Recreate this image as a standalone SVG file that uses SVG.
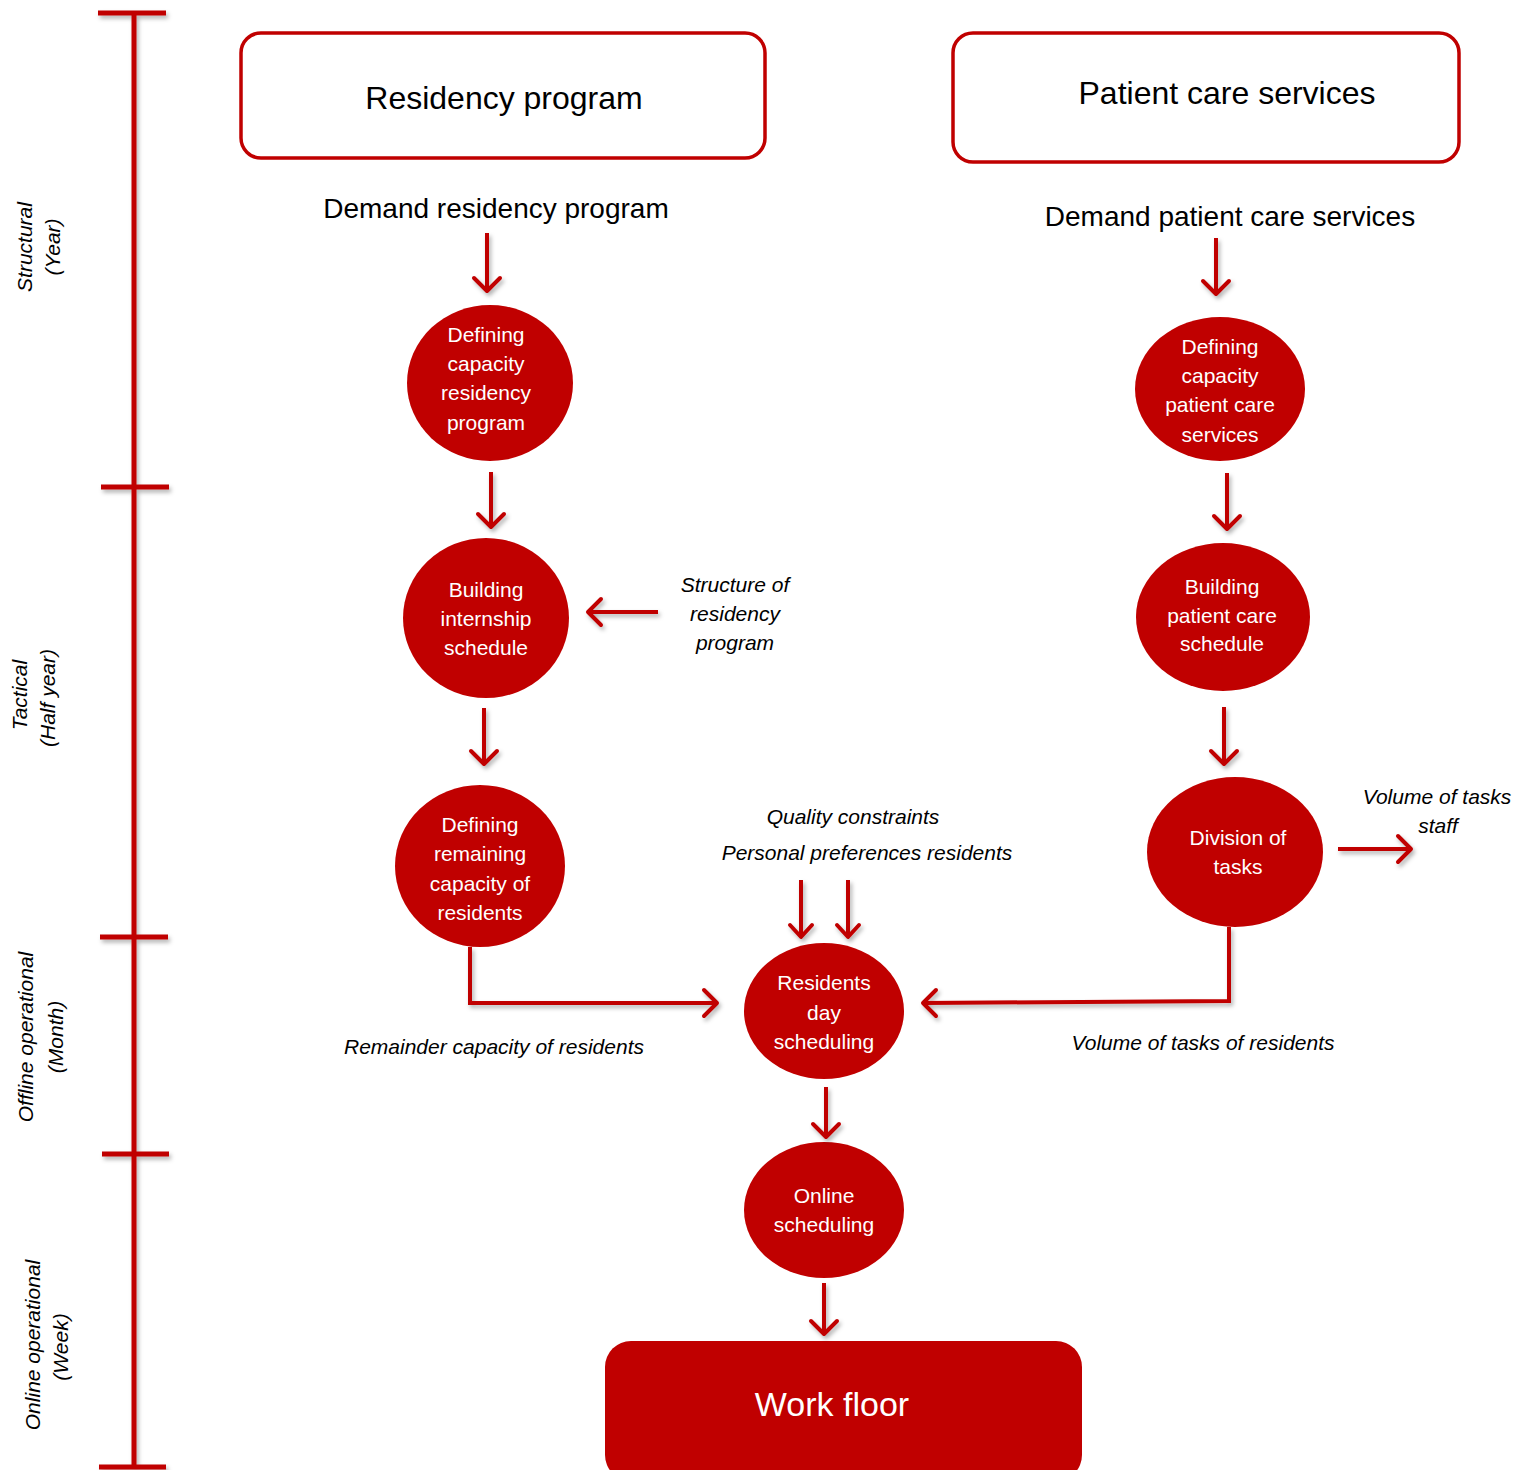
<svg xmlns="http://www.w3.org/2000/svg" width="1526" height="1470" viewBox="0 0 1526 1470">
  <style>
    .box { fill: #ffffff; stroke: #c00000; stroke-width: 3.5; }
    .node { fill: #c00000; }
    .ntext { font-family: "Liberation Sans", Arial, sans-serif; font-size: 21px; fill: #ffffff; text-anchor: middle; }
    .title { font-family: "Liberation Sans", Arial, sans-serif; font-size: 32px; fill: #000000; text-anchor: middle; }
    .demand { font-family: "Liberation Sans", Arial, sans-serif; font-size: 28px; fill: #000000; text-anchor: middle; }
    .lbl { font-family: "Liberation Sans", Arial, sans-serif; font-size: 21px; font-style: italic; fill: #000000; text-anchor: middle; }
    .axis { font-family: "Liberation Sans", Arial, sans-serif; font-size: 21px; font-style: italic; fill: #000000; text-anchor: middle; }
    .line { fill: none; stroke: #c00000; stroke-width: 4; }
    .head { fill: none; stroke: #c00000; stroke-width: 4; stroke-linecap: round; stroke-linejoin: round; }
    .tl { fill: none; stroke: #c00000; stroke-width: 5; }
  </style>
  <defs>
    <filter id="shadow" x="-20%" y="-20%" width="140%" height="140%">
      <feDropShadow dx="2" dy="3" stdDeviation="2" flood-color="#000000" flood-opacity="0.3"/>
    </filter>
  </defs>
  <rect width="1526" height="1470" fill="#ffffff"/>

  <!-- time axis -->
  <g id="timeline" filter="url(#shadow)">
    <line class="tl" x1="134" y1="13" x2="134" y2="1467"/>
    <line class="tl" x1="98" y1="13" x2="166" y2="13"/>
    <line class="tl" x1="101" y1="487" x2="169" y2="487"/>
    <line class="tl" x1="100" y1="937" x2="168" y2="937"/>
    <line class="tl" x1="102" y1="1154" x2="169" y2="1154"/>
    <line class="tl" x1="99" y1="1467" x2="166" y2="1467"/>
  </g>
  <g id="axis-labels">
    <text class="axis" transform="translate(32,247) rotate(-90)">Structural</text>
    <text class="axis" transform="translate(60,247) rotate(-90)">(Year)</text>
    <text class="axis" transform="translate(27,695) rotate(-90)">Tactical</text>
    <text class="axis" transform="translate(55,698) rotate(-90)">(Half year)</text>
    <text class="axis" transform="translate(33,1037) rotate(-90)">Offline operational</text>
    <text class="axis" transform="translate(63,1037) rotate(-90)">(Month)</text>
    <text class="axis" transform="translate(40,1345) rotate(-90)">Online operational</text>
    <text class="axis" transform="translate(68,1347) rotate(-90)">(Week)</text>
  </g>

  <!-- top-level boxes -->
  <g id="residency-program">
    <rect class="box" x="241" y="33" width="524" height="125" rx="20"/>
    <text class="title" x="504" y="109">Residency program</text>
  </g>
  <g id="patient-care-services">
    <rect class="box" x="953" y="33" width="506" height="129" rx="20"/>
    <text class="title" x="1227" y="104">Patient care services</text>
  </g>

  <g id="demand-labels">
    <text class="demand" x="496" y="218">Demand residency program</text>
    <text class="demand" x="1230" y="226">Demand patient care services</text>
  </g>

  <!-- process nodes -->
  <g id="defining-capacity-residency">
    <ellipse class="node" cx="490" cy="383" rx="83" ry="78"/>
    <text class="ntext" x="486" y="342">Defining</text>
    <text class="ntext" x="486" y="371">capacity</text>
    <text class="ntext" x="486" y="400">residency</text>
    <text class="ntext" x="486" y="430">program</text>
  </g>
  <g id="building-internship-schedule">
    <ellipse class="node" cx="486" cy="618" rx="83" ry="80"/>
    <text class="ntext" x="486" y="597">Building</text>
    <text class="ntext" x="486" y="626">internship</text>
    <text class="ntext" x="486" y="655">schedule</text>
  </g>
  <g id="defining-remaining-capacity">
    <ellipse class="node" cx="480" cy="866" rx="85" ry="81"/>
    <text class="ntext" x="480" y="832">Defining</text>
    <text class="ntext" x="480" y="861">remaining</text>
    <text class="ntext" x="480" y="891">capacity of</text>
    <text class="ntext" x="480" y="920">residents</text>
  </g>
  <g id="residents-day-scheduling">
    <ellipse class="node" cx="824" cy="1011" rx="80" ry="68"/>
    <text class="ntext" x="824" y="990">Residents</text>
    <text class="ntext" x="824" y="1020">day</text>
    <text class="ntext" x="824" y="1049">scheduling</text>
  </g>
  <g id="online-scheduling">
    <ellipse class="node" cx="824" cy="1210" rx="80" ry="68"/>
    <text class="ntext" x="824" y="1203">Online</text>
    <text class="ntext" x="824" y="1232">scheduling</text>
  </g>
  <g id="defining-capacity-patient-care">
    <ellipse class="node" cx="1220" cy="389" rx="85" ry="72"/>
    <text class="ntext" x="1220" y="354">Defining</text>
    <text class="ntext" x="1220" y="383">capacity</text>
    <text class="ntext" x="1220" y="412">patient care</text>
    <text class="ntext" x="1220" y="442">services</text>
  </g>
  <g id="building-patient-care-schedule">
    <ellipse class="node" cx="1223" cy="617" rx="87" ry="74"/>
    <text class="ntext" x="1222" y="594">Building</text>
    <text class="ntext" x="1222" y="623">patient care</text>
    <text class="ntext" x="1222" y="651">schedule</text>
  </g>
  <g id="division-of-tasks">
    <ellipse class="node" cx="1235" cy="852" rx="88" ry="75"/>
    <text class="ntext" x="1238" y="845">Division of</text>
    <text class="ntext" x="1238" y="874">tasks</text>
  </g>
  <g id="work-floor">
    <rect class="node" x="605" y="1341" width="477" height="140" rx="26"/>
    <text x="832" y="1416" font-family="Liberation Sans, Arial, sans-serif" font-size="34" fill="#ffffff" text-anchor="middle">Work floor</text>
  </g>

  <!-- flow labels -->
  <g id="flow-labels">
    <text class="lbl" x="735" y="592">Structure of</text>
    <text class="lbl" x="735" y="621">residency</text>
    <text class="lbl" x="735" y="650">program</text>
    <text class="lbl" x="853" y="824">Quality constraints</text>
    <text class="lbl" x="867" y="860">Personal preferences residents</text>
    <text class="lbl" x="494" y="1054">Remainder capacity of residents</text>
    <text class="lbl" x="1203" y="1050">Volume of tasks of residents</text>
    <text class="lbl" x="1437" y="804">Volume of tasks</text>
    <text class="lbl" x="1438" y="833">staff</text>
  </g>

  <!-- connectors -->
  <g id="connectors" filter="url(#shadow)">
    <!-- left column -->
    <line class="line" x1="487" y1="233" x2="487" y2="290"/>
    <polyline class="head" points="474,278 487,291 500,278"/>
    <line class="line" x1="491" y1="472" x2="491" y2="526"/>
    <polyline class="head" points="478,514 491,527 504,514"/>
    <line class="line" x1="484" y1="708" x2="484" y2="763"/>
    <polyline class="head" points="471,751 484,764 497,751"/>
    <line class="line" x1="658" y1="612" x2="589" y2="612"/>
    <polyline class="head" points="601,599 588,612 601,625"/>
    <polyline class="line" points="470,947 470,1003 716,1003"/>
    <polyline class="head" points="704,990 717,1003 704,1016"/>
    <!-- constraints into day scheduling -->
    <line class="line" x1="801" y1="880" x2="801" y2="936"/>
    <polyline class="head" points="790,925 801,937 812,925"/>
    <line class="line" x1="848" y1="880" x2="848" y2="936"/>
    <polyline class="head" points="837,925 848,937 859,925"/>
    <!-- right column -->
    <line class="line" x1="1216" y1="238" x2="1216" y2="293"/>
    <polyline class="head" points="1203,281 1216,294 1229,281"/>
    <line class="line" x1="1227" y1="473" x2="1227" y2="528"/>
    <polyline class="head" points="1214,516 1227,529 1240,516"/>
    <line class="line" x1="1224" y1="707" x2="1224" y2="763"/>
    <polyline class="head" points="1211,751 1224,764 1237,751"/>
    <line class="line" x1="1338" y1="849" x2="1410" y2="849"/>
    <polyline class="head" points="1398,836 1411,849 1398,862"/>
    <polyline class="line" points="1229,927 1229,1001 924,1003"/>
    <polyline class="head" points="936,990 923,1003 936,1016"/>
    <!-- bottom chain -->
    <line class="line" x1="826" y1="1087" x2="826" y2="1136"/>
    <polyline class="head" points="813,1124 826,1137 839,1124"/>
    <line class="line" x1="824" y1="1283" x2="824" y2="1333"/>
    <polyline class="head" points="811,1321 824,1334 837,1321"/>
  </g>
</svg>
